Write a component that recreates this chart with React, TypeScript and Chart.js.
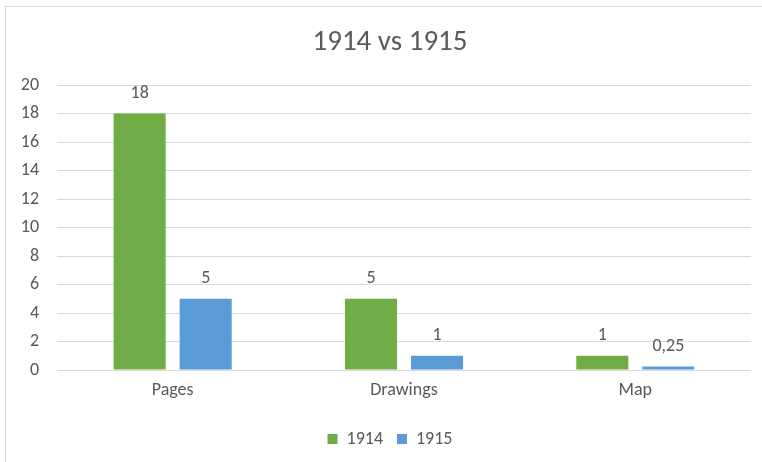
import React, { useEffect, useRef } from "react";
import { Chart, registerables } from "chart.js";

Chart.register(...registerables);

const categories = ["Pages", "Drawings", "Map"];
const series1914 = [18, 5, 1];
const series1915 = [5, 1, 0.25];
const seriesNames = ["1914", "1915"];
const yTicks = [0, 2, 4, 6, 8, 10, 12, 14, 16, 18, 20];
const titleText = "1914 vs 1915";

const FONT = "Carlito, Calibri, Lato, 'Open Sans', sans-serif";
const TEXT = "#595959";
const GRID = "#D9D9D9";

const frame = {
  id: "frame",
  beforeDraw(chart: any) {
    const { ctx, width, height } = chart;
    ctx.save();
    ctx.fillStyle = "#ffffff";
    ctx.fillRect(0, 0, width, height);
    ctx.strokeStyle = GRID;
    ctx.lineWidth = 1;
    ctx.strokeRect(5.5, 6.5, width + 20, height + 20);
    ctx.restore();
  },
};

// let the y tick labels use the space left of the axis box (no clipping)
const widenYLabels = {
  id: "widenYLabels",
  afterLayout(chart: any) {
    const y = chart.scales.y;
    if (y) y.left = 0;
  },
};

const dataLabels = {
  id: "dataLabels",
  afterDatasetsDraw(chart: any) {
    const { ctx } = chart;
    ctx.save();
    ctx.fillStyle = TEXT;
    ctx.font = `18px ${FONT}`;
    ctx.textAlign = "center";
    ctx.textBaseline = "middle";
    chart.data.datasets.forEach((ds: any, di: number) => {
      const meta = chart.getDatasetMeta(di);
      meta.data.forEach((bar: any, i: number) => {
        const v = ds.data[i];
        const label = String(v).replace(".", ",");
        ctx.fillText(label, bar.x, bar.y - 20);
      });
    });
    ctx.restore();
  },
};

export default function App() {
  const ref = useRef<HTMLCanvasElement>(null);
  useEffect(() => {
    if (!ref.current) return;
    const chart = new Chart(ref.current, {
      type: "bar",
      data: {
        labels: categories,
        datasets: [
          {
            label: seriesNames[0],
            data: series1914,
            backgroundColor: "#70AD47",
            categoryPercentage: 0.571,
            barPercentage: 0.788,
          },
          {
            label: seriesNames[1],
            data: series1915,
            backgroundColor: "#5B9BD5",
            categoryPercentage: 0.571,
            barPercentage: 0.788,
          },
        ],
      },
      options: {
        animation: false,
        responsive: false,
        maintainAspectRatio: false,
        layout: { padding: { left: 29, right: 11, top: 0, bottom: 4 } },
        plugins: {
          title: {
            display: true,
            text: titleText,
            color: TEXT,
            font: { family: FONT, size: 29, weight: "normal" },
            padding: { top: 25, bottom: 25.2 },
          },
          legend: {
            position: "bottom",
            labels: {
              color: TEXT,
              font: { family: FONT, size: 18 },
              boxWidth: 10,
              boxHeight: 10,
              padding: 14,
            },
          },
          tooltip: { enabled: false },
        },
        scales: {
          x: {
            grid: { display: false, drawTicks: false },
            border: { display: false },
            ticks: { color: TEXT, font: { family: FONT, size: 18 }, padding: 10 },
            afterFit(scale: any) {
              scale.height = 46;
            },
          },
          y: {
            min: 0,
            max: 20,
            afterBuildTicks(scale: any) {
              scale.ticks = yTicks.map((v) => ({ value: v }));
            },
            grid: { color: GRID, drawTicks: false },
            border: { display: false },
            ticks: { color: TEXT, font: { family: FONT, size: 18 }, padding: 18 },
            afterFit(scale: any) {
              scale.width = 28;
            },
          },
        },
      },
      plugins: [frame, widenYLabels, dataLabels],
    });
    return () => chart.destroy();
  }, []);
  return (
    <div style={{ position: "absolute", left: 0, top: 0, width: 762, height: 462 }}>
      <canvas ref={ref} width={762} height={462} style={{ display: "block" }} />
    </div>
  );
}
